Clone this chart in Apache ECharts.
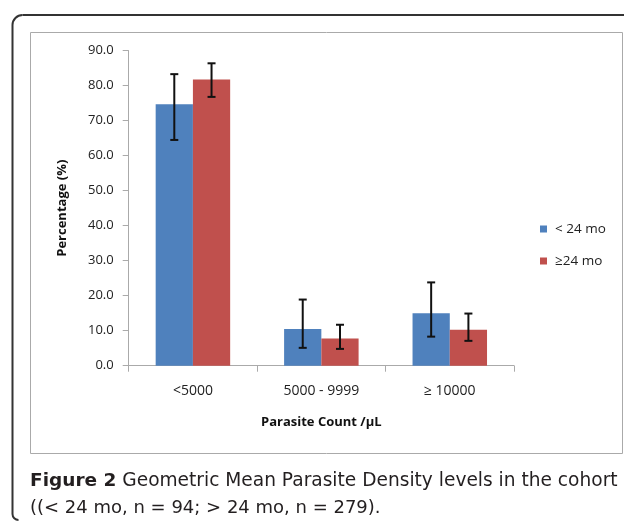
<!DOCTYPE html>
<html>
<head>
<meta charset="utf-8">
<script src="https://cdn.jsdelivr.net/npm/echarts@6/dist/echarts.min.js"></script>
<style>
html,body{margin:0;padding:0;background:#fff;}
#c{width:624px;height:524px;}
</style>
</head>
<body>
<div id="c"></div>
<script>
var categories = ['<5000', '5000 - 9999', '\u2265 10000'];
var seriesNames = ['< 24 mo', '\u226524 mo'];
var under24 = [74.7, 10.5, 15.0];
var under24Low = [64.5, 5.1, 8.3];
var under24High = [83.3, 18.9, 23.8];
var over24 = [81.8, 7.8, 10.3];
var over24Low = [76.8, 4.8, 7.1];
var over24High = [86.4, 11.7, 14.9];
var yTicks = [0, 10, 20, 30, 40, 50, 60, 70, 80, 90];

var BAR_GAP_CAT = 0.42;
var colors = ['#4F81BD', '#C0504D'];

function errSeries(idx, lows, highs) {
  var data = categories.map(function (c, i) { return [i, lows[i], highs[i]]; });
  return {
    type: 'custom',
    name: seriesNames[idx] + ' err',
    z: 10,
    data: data,
    encode: { x: 0, y: [1, 2] },
    renderItem: function (params, api) {
      var catW = api.size([1, 0])[0];
      var barW = catW * (1 - BAR_GAP_CAT) / 2;
      var off = (idx === 0 ? -1 : 1) * barW / 2;
      var lo = api.coord([api.value(0), api.value(1)]);
      var hi = api.coord([api.value(0), api.value(2)]);
      var x = lo[0] + off;
      var cap = 4;
      var st = { stroke: '#111', lineWidth: 2 };
      return {
        type: 'group',
        children: [
          { type: 'line', shape: { x1: x, y1: lo[1], x2: x, y2: hi[1] }, style: st },
          { type: 'line', shape: { x1: x - cap, y1: lo[1], x2: x + cap, y2: lo[1] }, style: st },
          { type: 'line', shape: { x1: x - cap, y1: hi[1], x2: x + cap, y2: hi[1] }, style: st }
        ]
      };
    }
  };
}

var chart = echarts.init(document.getElementById('c'));
var FONT = 'Open Sans';
var CAP_FONT = 'DejaVu Sans';
var frameStyle = { fill: null, stroke: '#333', lineWidth: 2 };
chart.setOption({
  animation: false,
  textStyle: { fontFamily: FONT },
  grid: { left: 128.7, right: 110, top: 50.7, bottom: 158.3, containLabel: false },
  legend: {
    data: seriesNames,
    orient: 'vertical',
    left: 535,
    top: 217,
    itemWidth: 7,
    itemHeight: 7,
    itemGap: 18,
    icon: 'rect',
    textStyle: { fontFamily: FONT, fontSize: 13.5, color: '#222', padding: [0, 0, 0, 3] }
  },
  xAxis: {
    type: 'category',
    data: categories,
    name: 'Parasite Count /\u00b5L',
    nameLocation: 'middle',
    nameGap: 50,
    nameTextStyle: { fontFamily: FONT, fontSize: 13, fontWeight: 'bold', color: '#111' },
    axisLine: { lineStyle: { color: '#aaa', width: 1 } },
    axisTick: { show: true, alignWithLabel: false, length: 6, lineStyle: { color: '#aaa' } },
    axisLabel: { fontFamily: FONT, fontSize: 14, color: '#222', margin: 18 }
  },
  yAxis: {
    type: 'value',
    min: 0,
    max: 90,
    interval: 10,
    name: 'Percentage (%)',
    nameLocation: 'middle',
    nameGap: 60,
    nameTextStyle: { fontFamily: FONT, fontSize: 13, fontWeight: 'bold', color: '#111' },
    axisLine: { show: true, lineStyle: { color: '#aaa', width: 1 } },
    axisTick: { show: true, length: 6, lineStyle: { color: '#aaa' } },
    splitLine: { show: false },
    axisLabel: { fontFamily: FONT, fontSize: 13, color: '#222', margin: 15,
      formatter: function (v) { return yTicks.indexOf(v) >= 0 ? v.toFixed(1) : ''; } }
  },
  series: [
    { type: 'bar', name: seriesNames[0], data: under24, barGap: '0%', barCategoryGap: (BAR_GAP_CAT * 100) + '%',
      itemStyle: { color: colors[0] } },
    { type: 'bar', name: seriesNames[1], data: over24, barGap: '0%', barCategoryGap: (BAR_GAP_CAT * 100) + '%',
      itemStyle: { color: colors[1] } },
    errSeries(0, under24Low, under24High),
    errSeries(1, over24Low, over24High)
  ],
  graphic: [
    { type: 'line', shape: { x1: 12.5, y1: 25, x2: 12.5, y2: 514 }, style: frameStyle, silent: true },
    { type: 'line', shape: { x1: 22.5, y1: 15, x2: 640, y2: 15 }, style: frameStyle, silent: true },
    { type: 'arc', shape: { cx: 22.5, cy: 25, r: 10, startAngle: Math.PI, endAngle: Math.PI * 1.5 }, style: frameStyle, silent: true },
    { type: 'arc', shape: { cx: 18.5, cy: 514, r: 6, startAngle: Math.PI * 0.5, endAngle: Math.PI, clockwise: true }, style: frameStyle, silent: true },
    { type: 'rect', shape: { x: 30.5, y: 32.5, width: 592, height: 421 },
      style: { fill: null, stroke: '#aaa', lineWidth: 1 }, silent: true, z: -1 },
    { type: 'text', left: 30, top: 471.5,
      style: { text: '{b|Figure 2} Geometric Mean Parasite Density levels in the cohort',
        rich: { b: { fontWeight: 'bold', fontSize: 18.5, fontFamily: CAP_FONT, fill: '#231f20' } },
        fontSize: 18.6, fontFamily: CAP_FONT, fill: '#231f20' } },
    { type: 'text', left: 30, top: 499,
      style: { text: '((< 24 mo, n = 94; > 24 mo, n = 279).', fontSize: 18, fontFamily: CAP_FONT, fill: '#231f20' } }
  ]
});
</script>
</body>
</html>
